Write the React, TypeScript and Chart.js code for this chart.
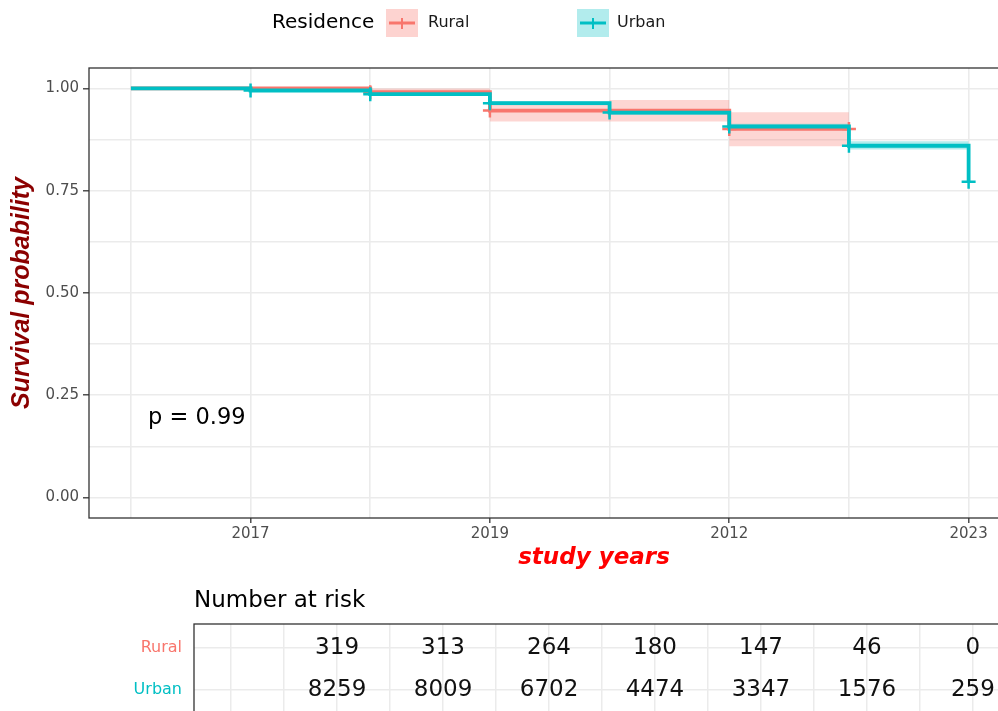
import React, { useEffect, useRef } from 'react';
import { Chart, registerables } from 'chart.js';
Chart.register(...registerables);

// ---------- data ----------
const timePoints = [0, 1, 2, 3, 4, 5, 6, 7];
const yearLabels = ['', '2017', '', '2019', '', '2012', '', '2023'];
const groupNames = ['Rural', 'Urban'];
const groupColors = ['#F8766D', '#00BFC4'];

const ruralTimes = [0, 1, 2, 3, 4, 5, 6];
const ruralSurv = [1.0, 1.0, 0.991, 0.946, 0.946, 0.901, 0.901];
const ruralLower = [1.0, 1.0, 0.982, 0.919, 0.919, 0.859, 0.859];
const ruralUpper = [1.0, 1.0, 1.0, 0.96, 0.972, 0.942, 0.942];
const ruralCensorTimes = [2, 3, 4, 5, 6];

const urbanTimes = [0, 1, 2, 3, 4, 5, 6, 7];
const urbanSurv = [1.0, 0.995, 0.986, 0.964, 0.941, 0.907, 0.86, 0.772];
const urbanLower = [1.0, 0.993, 0.982, 0.959, 0.935, 0.9, 0.851, 0.851];
const urbanUpper = [1.0, 0.997, 0.99, 0.969, 0.947, 0.914, 0.871, 0.871];
const urbanCensorTimes = [1, 2, 3, 4, 5, 6, 7];

const yTickValues = [0, 0.125, 0.25, 0.375, 0.5, 0.625, 0.75, 0.875, 1];
const yTickLabels = ['0.00', '', '0.25', '', '0.50', '', '0.75', '', '1.00'];

const riskTimes = [1, 2, 3, 4, 5, 6, 7];
const ruralAtRisk = [319, 313, 264, 180, 147, 46, 0];
const urbanAtRisk = [8259, 8009, 6702, 4474, 3347, 1576, 259];
const riskGridValues = [0, 0.5, 1, 1.5, 2, 2.5, 3, 3.5, 4, 4.5, 5, 5.5, 6, 6.5, 7];
const riskRowValues = [2, 1]; // Rural row, Urban row

const pValueText = 'p = 0.99';
const legendTitle = 'Residence';
const yTitle = 'Survival probability';
const xTitle = 'study years';
const riskTitle = 'Number at risk';

// ---------- helpers ----------
const pts = (xs: number[], ys: number[]) => xs.map((x, i) => ({ x, y: ys[i] }));
const censorPts = (times: number[], xs: number[], ys: number[]) =>
  times.map((t) => ({ x: t, y: ys[xs.indexOf(t)] }));

const FONT = "'DejaVu Sans', sans-serif";

export default function App() {
  const mainRef = useRef<HTMLCanvasElement>(null);
  const tableRef = useRef<HTMLCanvasElement>(null);

  useEffect(() => {
    const decoPlugin = {
      id: 'deco',
      afterDraw(chart: any) {
        const { ctx, chartArea } = chart;
        ctx.save();
        ctx.strokeStyle = '#333333';
        ctx.lineWidth = 1.3;
        ctx.strokeRect(chartArea.left, chartArea.top, chartArea.right - chartArea.left + 5, chartArea.bottom - chartArea.top);
        // y title
        ctx.save();
        ctx.translate(22, 293);
        ctx.rotate(-Math.PI / 2);
        ctx.fillStyle = '#8B0000';
        ctx.font = "italic bold 25px 'Liberation Sans', Arial, sans-serif";
        ctx.textAlign = 'center';
        ctx.textBaseline = 'middle';
        ctx.fillText(yTitle, 0, 0);
        ctx.restore();
        // x title
        ctx.fillStyle = '#FF0000';
        ctx.font = `italic bold 23px ${FONT}`;
        ctx.textAlign = 'center';
        ctx.textBaseline = 'middle';
        ctx.fillText(xTitle, 594, 558);
        // p value
        ctx.fillStyle = '#000000';
        ctx.font = `22.5px ${FONT}`;
        ctx.textAlign = 'left';
        ctx.textBaseline = 'alphabetic';
        ctx.fillText(pValueText, 148, 424);
        // legend
        ctx.textBaseline = 'middle';
        ctx.font = `20px ${FONT}`;
        ctx.fillStyle = '#000000';
        ctx.fillText(legendTitle, 272, 23);
        const boxes = [386, 577];
        const labelX = [428, 617];
        const fills = ['rgba(248,118,109,0.32)', 'rgba(0,191,196,0.30)'];
        for (let i = 0; i < 2; i++) {
          const bx = boxes[i];
          ctx.fillStyle = fills[i];
          ctx.fillRect(bx, 9, 32, 28);
          ctx.strokeStyle = groupColors[i];
          ctx.lineWidth = 3;
          ctx.beginPath();
          ctx.moveTo(bx + 3, 23);
          ctx.lineTo(bx + 29, 23);
          ctx.stroke();
          ctx.lineWidth = 2;
          ctx.beginPath();
          ctx.moveTo(bx + 16, 18);
          ctx.lineTo(bx + 16, 29);
          ctx.stroke();
          ctx.fillStyle = '#1a1a1a';
          ctx.font = `16px ${FONT}`;
          ctx.fillText(groupNames[i], labelX[i], 23);
        }
        ctx.restore();
      },
    };

    const main = new Chart(mainRef.current as HTMLCanvasElement, {
      type: 'line',
      data: {
        datasets: [
          { data: pts(ruralTimes, ruralLower), stepped: true, borderWidth: 0, pointRadius: 0, fill: false, order: 20, borderColor: 'rgba(0,0,0,0)' },
          { data: pts(ruralTimes, ruralUpper), stepped: true, borderWidth: 0, pointRadius: 0, fill: '-1', backgroundColor: 'rgba(248,118,109,0.30)', order: 19, borderColor: 'rgba(0,0,0,0)' },
          { data: pts(urbanTimes, urbanLower), stepped: true, borderWidth: 0, pointRadius: 0, fill: false, order: 18, borderColor: 'rgba(0,0,0,0)' },
          { data: pts(urbanTimes, urbanUpper), stepped: true, borderWidth: 0, pointRadius: 0, fill: '-1', backgroundColor: 'rgba(0,191,196,0.30)', order: 17, borderColor: 'rgba(0,0,0,0)' },
          { data: pts(ruralTimes, ruralSurv), stepped: true, borderWidth: 3.8, pointRadius: 0, borderColor: groupColors[0], fill: false, order: 10 },
          { data: censorPts(ruralCensorTimes, ruralTimes, ruralSurv), showLine: false, pointStyle: 'cross', pointRadius: 7, pointBorderWidth: 2.5, pointBorderColor: groupColors[0], borderColor: groupColors[0], order: 9 },
          { data: pts(urbanTimes, urbanSurv), stepped: true, borderWidth: 3.8, pointRadius: 0, borderColor: groupColors[1], fill: false, order: 8 },
          { data: censorPts(urbanCensorTimes, urbanTimes, urbanSurv), showLine: false, pointStyle: 'cross', pointRadius: 7, pointBorderWidth: 2.5, pointBorderColor: groupColors[1], borderColor: groupColors[1], order: 7 },
        ] as any,
      },
      options: {
        responsive: false,
        animation: false,
        events: [],
        layout: { padding: { top: 68, left: 0, right: 0, bottom: 0 } },
        plugins: { legend: { display: false }, tooltip: { enabled: false } },
        scales: {
          x: {
            type: 'linear',
            min: -0.35,
            max: 7.35,
            afterBuildTicks: (s: any) => { s.ticks = timePoints.map((v) => ({ value: v })); },
            afterFit: (s: any) => { s.height = 62; },
            ticks: {
              autoSkip: false,
              maxRotation: 0,
              padding: 2,
              color: '#4D4D4D',
              font: { family: FONT, size: 15 },
              callback: (v: any) => yearLabels[timePoints.indexOf(Number(v))] ?? '',
            },
            grid: {
              color: '#EBEBEB',
              lineWidth: 1.6,
              tickLength: 5,
              tickColor: (c: any) => (yearLabels[timePoints.indexOf(c.tick?.value)] ? '#333333' : 'rgba(0,0,0,0)'),
              tickWidth: 1.3,
            },
            border: { display: false },
          },
          y: {
            type: 'linear',
            min: -0.05,
            max: 1.05,
            afterBuildTicks: (s: any) => { s.ticks = yTickValues.map((v) => ({ value: v })); },
            afterFit: (s: any) => { s.width = 89; },
            ticks: {
              padding: 4,
              color: '#4D4D4D',
              font: { family: FONT, size: 15 },
              callback: (v: any) => yTickLabels[yTickValues.indexOf(Number(v))] ?? '',
            },
            grid: {
              color: '#EBEBEB',
              lineWidth: 1.6,
              tickLength: 6,
              tickColor: (c: any) => (yTickLabels[yTickValues.indexOf(c.tick?.value)] ? '#333333' : 'rgba(0,0,0,0)'),
              tickWidth: 1.3,
            },
            border: { display: false },
          },
        },
      } as any,
      plugins: [decoPlugin],
    });

    const tablePlugin = {
      id: 'riskText',
      afterDraw(chart: any) {
        const { ctx, chartArea, scales } = chart;
        ctx.save();
        ctx.strokeStyle = '#333333';
        ctx.lineWidth = 1.3;
        ctx.strokeRect(chartArea.left, chartArea.top, chartArea.right - chartArea.left + 5, chartArea.bottom - chartArea.top + 5);
        ctx.fillStyle = '#000000';
        ctx.font = `23px ${FONT}`;
        ctx.textAlign = 'left';
        ctx.textBaseline = 'middle';
        ctx.fillText(riskTitle, 194, 21);
        // row labels
        ctx.font = `16px ${FONT}`;
        ctx.textAlign = 'right';
        riskRowValues.forEach((rv, i) => {
          ctx.fillStyle = groupColors[i];
          ctx.fillText(groupNames[i], chartArea.left - 12, scales.y.getPixelForValue(rv));
        });
        // numbers
        ctx.font = `23px ${FONT}`;
        ctx.textAlign = 'center';
        ctx.fillStyle = '#111111';
        riskTimes.forEach((t, i) => {
          const px = scales.x.getPixelForValue(t);
          ctx.fillText(String(ruralAtRisk[i]), px, scales.y.getPixelForValue(riskRowValues[0]));
          ctx.fillText(String(urbanAtRisk[i]), px, scales.y.getPixelForValue(riskRowValues[1]));
        });
        ctx.restore();
      },
    };

    const table = new Chart(tableRef.current as HTMLCanvasElement, {
      type: 'line',
      data: {
        datasets: [
          { data: riskTimes.map((t) => ({ x: t, y: riskRowValues[0] })), showLine: false, pointRadius: 0 },
          { data: riskTimes.map((t) => ({ x: t, y: riskRowValues[1] })), showLine: false, pointRadius: 0 },
        ],
      },
      options: {
        responsive: false,
        animation: false,
        events: [],
        layout: { padding: { top: 44, left: 0, right: 0, bottom: 0 } },
        plugins: { legend: { display: false }, tooltip: { enabled: false } },
        scales: {
          x: {
            type: 'linear',
            min: -0.35,
            max: 7.35,
            afterBuildTicks: (s: any) => { s.ticks = riskGridValues.map((v) => ({ value: v })); },
            afterFit: (s: any) => { s.height = 0; },
            ticks: { display: false },
            grid: { color: '#EBEBEB', lineWidth: 1.5, drawTicks: false },
            border: { display: false },
          },
          y: {
            type: 'linear',
            min: 0.2857,
            max: 2.5714,
            afterBuildTicks: (s: any) => { s.ticks = riskRowValues.map((v) => ({ value: v })); },
            afterFit: (s: any) => { s.width = 194; },
            ticks: { display: false },
            grid: { color: '#EBEBEB', lineWidth: 1.5, drawTicks: false },
            border: { display: false },
          },
        },
      } as any,
      plugins: [tablePlugin],
    });

    return () => {
      main.destroy();
      table.destroy();
    };
  }, []);

  return (
    <div style={{ position: 'fixed', left: 0, top: 0, width: 998, height: 711, overflow: 'hidden', background: '#ffffff' }}>
      <canvas ref={mainRef} width={1020} height={580} style={{ position: 'absolute', left: 0, top: 0, width: 1020, height: 580 }} />
      <canvas ref={tableRef} width={1010} height={140} style={{ position: 'absolute', left: 0, top: 580, width: 1010, height: 140 }} />
    </div>
  );
}
